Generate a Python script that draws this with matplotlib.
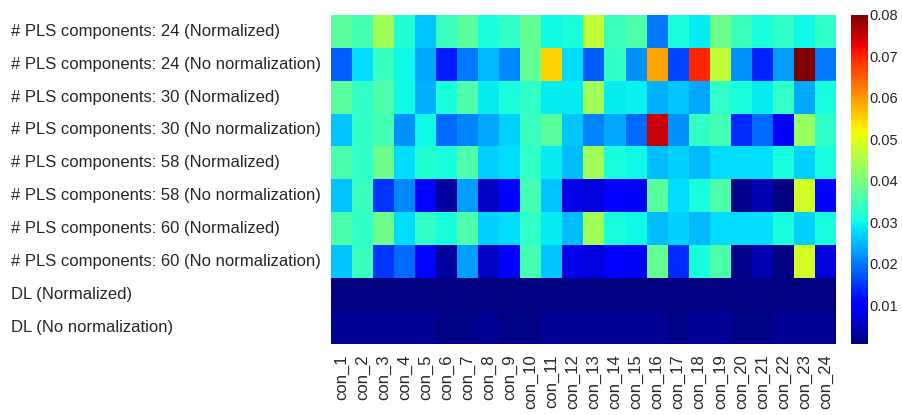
import numpy as np
import matplotlib
matplotlib.use("Agg")
import matplotlib.pyplot as plt
import seaborn as sns

rows = ['# PLS components: 24 (Normalized)',
        '# PLS components: 24 (No normalization)',
        '# PLS components: 30 (Normalized)',
        '# PLS components: 30 (No normalization)',
        '# PLS components: 58 (Normalized)',
        '# PLS components: 58 (No normalization)',
        '# PLS components: 60 (Normalized)',
        '# PLS components: 60 (No normalization)',
        'DL (Normalized)',
        'DL (No normalization)']
cols = ['con_%d' % i for i in range(1, 25)]

pls24_norm = [0.037, 0.035, 0.044, 0.032, 0.026, 0.034, 0.037, 0.031, 0.033, 0.038, 0.030, 0.031,
              0.047, 0.034, 0.036, 0.020, 0.031, 0.029, 0.039, 0.034, 0.031, 0.033, 0.030, 0.033]
pls24_raw = [0.018, 0.028, 0.034, 0.030, 0.024, 0.013, 0.020, 0.025, 0.0215, 0.038, 0.055, 0.028,
             0.018, 0.033, 0.022, 0.059, 0.016, 0.0695, 0.047, 0.022, 0.0135, 0.023, 0.080, 0.020]
pls30_norm = [0.037, 0.033, 0.036, 0.030, 0.0245, 0.031, 0.036, 0.029, 0.031, 0.033, 0.029, 0.029,
              0.044, 0.029, 0.0295, 0.0245, 0.026, 0.024, 0.033, 0.031, 0.029, 0.033, 0.024, 0.031]
pls30_raw = [0.026, 0.033, 0.035, 0.022, 0.030, 0.019, 0.021, 0.024, 0.027, 0.034, 0.037, 0.026,
             0.021, 0.024, 0.019, 0.075, 0.022, 0.033, 0.035, 0.014, 0.019, 0.009, 0.043, 0.033]
pls58_norm = [0.036, 0.033, 0.039, 0.028, 0.032, 0.031, 0.036, 0.027, 0.028, 0.033, 0.029, 0.0255,
              0.044, 0.031, 0.030, 0.0255, 0.027, 0.025, 0.028, 0.028, 0.028, 0.031, 0.027, 0.031]
pls58_raw = [0.026, 0.034, 0.015, 0.0215, 0.011, 0.003, 0.023, 0.0056, 0.0095, 0.035, 0.026, 0.008,
             0.0075, 0.0095, 0.009, 0.037, 0.028, 0.031, 0.036, 0.002, 0.0045, 0.001, 0.049, 0.0095]
pls60_norm = [0.036, 0.033, 0.039, 0.028, 0.033, 0.031, 0.036, 0.027, 0.028, 0.033, 0.029, 0.0255,
              0.044, 0.031, 0.030, 0.0255, 0.027, 0.025, 0.028, 0.028, 0.028, 0.031, 0.027, 0.031]
pls60_raw = [0.026, 0.034, 0.015, 0.019, 0.011, 0.003, 0.023, 0.0056, 0.009, 0.035, 0.026, 0.0085,
             0.0075, 0.0095, 0.009, 0.038, 0.014, 0.031, 0.036, 0.002, 0.0045, 0.001, 0.049, 0.007]
dl_norm = [0.0008, 0.0008, 0.0008, 0.0008, 0.0008, 0.0008, 0.0008, 0.0008, 0.0008, 0.0008, 0.0008, 0.0008,
           0.0008, 0.0008, 0.0008, 0.0008, 0.0008, 0.0008, 0.0008, 0.0008, 0.0008, 0.0008, 0.0008, 0.0008]
dl_raw = [0.0022, 0.0022, 0.0022, 0.0022, 0.0024, 0.0014, 0.0014, 0.0022, 0.0014, 0.0014, 0.0026, 0.0022,
          0.0022, 0.0022, 0.0022, 0.0022, 0.0012, 0.0024, 0.0024, 0.0014, 0.0014, 0.0022, 0.0022, 0.0022]

data = np.array([pls24_norm, pls24_raw, pls30_norm, pls30_raw, pls58_norm,
                 pls58_raw, pls60_norm, pls60_raw, dl_norm, dl_raw])

sns.set_style('white')
plt.rcParams['font.family'] = ['Liberation Sans', 'DejaVu Sans']

fig = plt.figure(figsize=(9.03, 4.15), dpi=100)
ax = fig.add_axes([0.3665, 0.170, 0.5592, 0.795])
cax = fig.add_axes([0.9425, 0.172, 0.0188, 0.792])

sns.heatmap(data, ax=ax, cbar_ax=cax, cmap='jet',
            xticklabels=cols, yticklabels=rows)
ax.set_yticklabels(rows, rotation=0, ha='left')
ax.set_xticklabels(cols, rotation=90)
ax.tick_params(axis='both', length=0, labelsize=12, colors='#262626')
# labels are left aligned at the figure edge
ax.tick_params(axis='y', pad=(331 - 11) * 0.72)
ax.tick_params(axis='x', pad=7)
cax.set_yticks([0.01, 0.02, 0.03, 0.04, 0.05, 0.06, 0.07, 0.08])
cax.tick_params(length=0, labelsize=10.5, colors='#262626', pad=1)

fig.savefig('out.png', dpi=100)
